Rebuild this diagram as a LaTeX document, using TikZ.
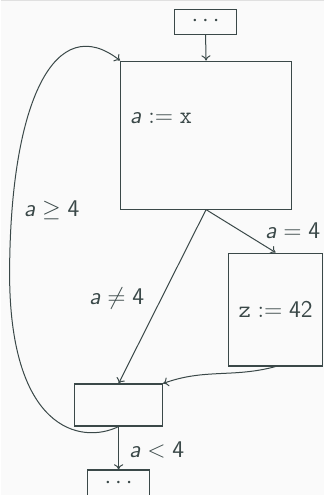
\documentclass[tikz,border=0pt]{standalone}
\usetikzlibrary{arrows.meta}
\definecolor{ln}{HTML}{3A4848}
\definecolor{bgc}{HTML}{FAFAFA}
\definecolor{topl}{HTML}{E0E0E0}
\newcommand{\va}{\textsf{\itshape a}}
\tikzset{
  blk/.style={draw=ln, line width=0.55pt, fill=none},
  edge/.style={draw=ln, line width=0.5pt, -{To[length=2.6pt,width=4.6pt]}},
  lbl/.style={text=ln, inner sep=0pt},
}
\begin{document}
\begin{tikzpicture}[x=0.5pt,y=-0.5pt,font=\large\sffamily]
\fill[bgc] (0,0) rectangle (323,495);
\draw[topl, line width=0.6pt] (0,0.5) -- (323,0.5);
\useasboundingbox (0,0) rectangle (323,495);
\begin{scope}
\clip (0,0) rectangle (323,495);
% blocks
\node[blk, minimum width=31pt, minimum height=12.5pt, inner sep=0pt, text=ln] (top) at (205,21.5) {$\cdots$};
\node[blk, inner sep=0pt, minimum width=85.5pt, minimum height=74pt] (big) at (205.5,135) {};
\node[lbl, anchor=west] (bigtxt) at (129,118) {\va${}:={}$\texttt{x}};
\node[blk, minimum width=47pt, minimum height=56.5pt, inner sep=0pt, text=ln] (zb) at (275,309.5) {\texttt{z}${}:={}$42};
\node[blk, minimum width=44pt, minimum height=21pt, inner sep=0pt] (bot) at (118,405) {};
\node[blk, minimum width=31pt, minimum height=13pt, inner sep=0pt, text=ln] (end) at (118,483) {$\cdots$};
% edges
\draw[edge] (top.south) -- (big.north);
\draw[edge] (big.south) -- (zb.north);
\draw[edge] (big.south) -- (bot.north);
\draw[edge] (zb.south) to[out=195,in=20] (bot.north east);
\draw[edge] (bot.south) .. controls (80,445) and (8,430) .. (9,270) .. controls (10,100) and (55,10) .. (big.north west);
\draw[edge] (bot.south) -- (end.north);
% labels
\node[lbl] (l1) at (292,231) {\va${}={}$4};
\node[lbl] (l2) at (116,298) {\va${}\neq{}$4};
\node[lbl] (l3) at (51,210) {\va${}\geq{}$4};
\node[lbl] (l4) at (156,450) {\va${}<{}$4};
\end{scope}
\end{tikzpicture}
\end{document}
